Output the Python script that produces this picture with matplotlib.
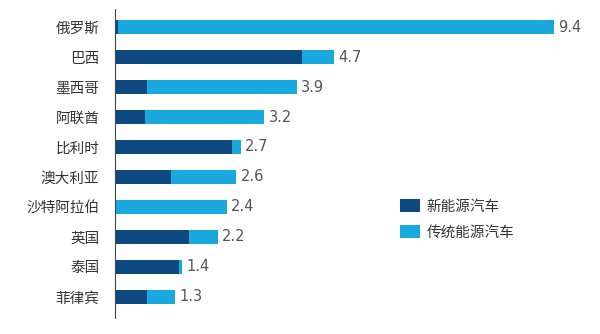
import matplotlib
matplotlib.use("Agg")
import matplotlib.pyplot as plt
from matplotlib.patches import Patch

plt.rcParams['font.family'] = ['Noto Sans CJK SC', 'DejaVu Sans']

categories = ["俄罗斯", "巴西", "墨西哥", "阿联酋", "比利时", "澳大利亚", "沙特阿拉伯", "英国", "泰国", "菲律宾"]
new_energy = [0.08, 4.0, 0.7, 0.65, 2.52, 1.2, 0.0, 1.6, 1.37, 0.7]
traditional = [9.32, 0.7, 3.2, 2.55, 0.18, 1.4, 2.4, 0.6, 0.08, 0.6]
totals = [9.4, 4.7, 3.9, 3.2, 2.7, 2.6, 2.4, 2.2, 1.4, 1.3]
series_names = ["新能源汽车", "传统能源汽车"]

c_dark = "#0e4a7f"
c_light = "#1aa9df"

fig = plt.figure(figsize=(6.0, 3.34), dpi=100)
ax = fig.add_axes([0.191, 0.048, 0.789, 0.925])

y = list(range(len(categories)))
h = 0.47
ax.barh(y, new_energy, height=h, color=c_dark, label=series_names[0])
ax.barh(y, traditional, left=new_energy, height=h, color=c_light, label=series_names[1])

for yi, t, n, tr in zip(y, totals, new_energy, traditional):
    ax.text(n + tr + 0.09, yi, f"{t}", va="center", ha="left", fontsize=10.5,
            color="#555555", family=["DejaVu Sans"])

ax.set_xlim(0, 10.12)
ax.set_ylim(9.7, -0.6)
ax.set_yticks(y)
ax.set_yticklabels(categories, fontsize=10.5, color="#333333")
ax.tick_params(axis="y", length=0, pad=11)
ax.set_xticks([])
for s in ["top", "right", "bottom"]:
    ax.spines[s].set_visible(False)
ax.spines["left"].set_color("#444444")
ax.spines["left"].set_linewidth(0.8)

handles = [Patch(facecolor=c_dark, label=series_names[0]),
           Patch(facecolor=c_light, label=series_names[1])]
fig.legend(handles=handles, loc="upper left", bbox_to_anchor=(0.655, 0.425),
           frameon=False, fontsize=10.5, handlelength=1.35, handleheight=1.0,
           handletextpad=0.45, labelspacing=0.75, labelcolor="#333333", borderpad=0)

fig.savefig("out.png", dpi=100)
